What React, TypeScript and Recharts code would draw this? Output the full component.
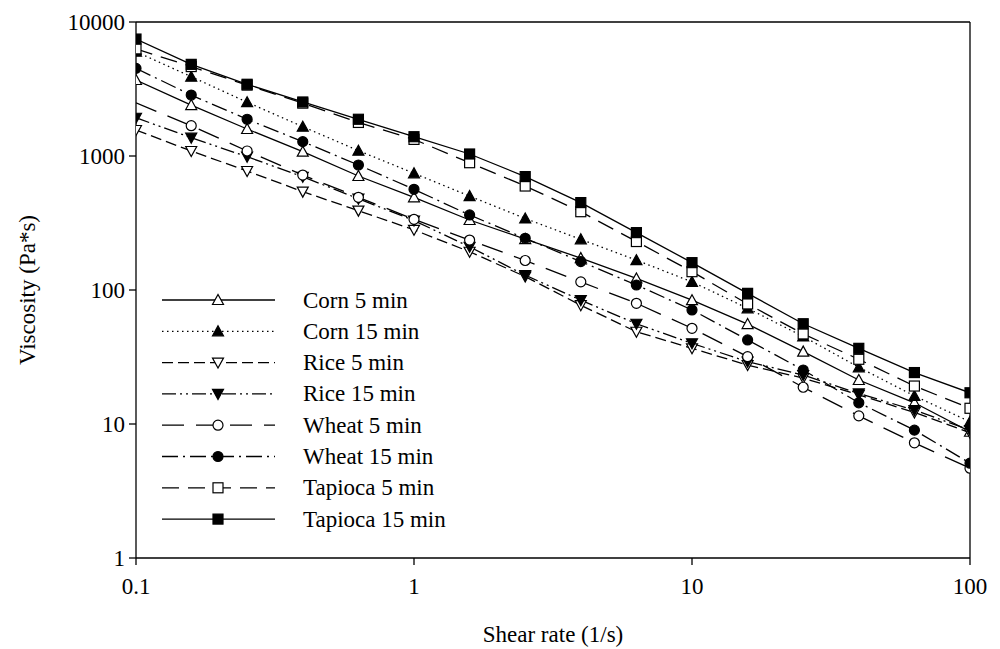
import React from "react";
import {
  Legend,
  Line,
  LineChart,
  ReferenceLine,
  XAxis,
  YAxis,
} from "recharts";

const FONT = "'Liberation Serif', 'Times New Roman', serif";
const FS = 23;

// shear rate, 5 points per decade
const shearRate = [0.1, 0.158, 0.251, 0.398, 0.631, 1, 1.585, 2.512, 3.981, 6.31, 10, 15.85, 25.12, 39.81, 63.1, 100];

const corn5 = [3690, 2400, 1590, 1077, 709, 492, 333, 240, 173, 122, 84, 55.7, 34.7, 21.3, 14.4, 8.75];
const corn15 = [6000, 3910, 2520, 1655, 1096, 743, 502, 342, 239, 167, 115, 73, 45, 26.5, 16.2, 10.4];
const rice5 = [1563, 1090, 773, 542, 391, 281, 193, 126, 77, 48.8, 36.7, 27.5, 22, 16.5, 12.2, 8.6];
const rice15 = [1930, 1370, 988, 700, 480, 330, 210, 129, 84, 56, 40, 29.2, 23.2, 16.9, 12.7, 9.0];
const wheat5 = [2490, 1683, 1090, 721, 492, 337, 236, 166, 115, 79.6, 51.8, 31.8, 18.8, 11.5, 7.24, 4.68];
const wheat15 = [4510, 2850, 1880, 1280, 857, 564, 363, 243, 163, 109, 71, 42.4, 25.3, 14.4, 9.0, 5.1];
const tapioca5 = [6300, 4650, 3380, 2480, 1780, 1330, 891, 597, 384, 230, 137, 78.7, 47, 30.4, 19.2, 13.1];
const tapioca15 = [7460, 4830, 3430, 2530, 1880, 1393, 1035, 702, 449, 268, 160, 94.4, 56, 36.7, 24.2, 17.1];

const xTicks = [0.1, 1, 10, 100];
const yTicks = [1, 10, 100, 1000, 10000];

type Shape = "triUp" | "triDown" | "circle" | "square";

const series = [
  { key: "corn5", name: "Corn 5 min", values: corn5, shape: "triUp" as Shape, filled: false, dash: undefined as string | undefined },
  { key: "corn15", name: "Corn 15 min", values: corn15, shape: "triUp" as Shape, filled: true, dash: "1.5 3.5" },
  { key: "rice5", name: "Rice 5 min", values: rice5, shape: "triDown" as Shape, filled: false, dash: "11 5" },
  { key: "rice15", name: "Rice 15 min", values: rice15, shape: "triDown" as Shape, filled: true, dash: "14 4 2 4 2 4" },
  { key: "wheat5", name: "Wheat 5 min", values: wheat5, shape: "circle" as Shape, filled: false, dash: "22 12" },
  { key: "wheat15", name: "Wheat 15 min", values: wheat15, shape: "circle" as Shape, filled: true, dash: "16 5 2 5" },
  { key: "tapioca5", name: "Tapioca 5 min", values: tapioca5, shape: "square" as Shape, filled: false, dash: "17 9" },
  { key: "tapioca15", name: "Tapioca 15 min", values: tapioca15, shape: "square" as Shape, filled: true, dash: undefined },
];

const data = shearRate.map((x, i) => {
  const row: Record<string, number> = { x };
  series.forEach((s) => {
    row[s.key] = s.values[i];
  });
  return row;
});

function Marker({ cx, cy, shape, filled }: { cx: number; cy: number; shape: Shape; filled: boolean }) {
  const fill = filled ? "#000" : "#fff";
  const common = { fill, stroke: "#000", strokeWidth: 1.2 };
  if (shape === "circle") return <circle cx={cx} cy={cy} r={5} {...common} />;
  if (shape === "square") return <rect x={cx - 5} y={cy - 5} width={10} height={10} {...common} />;
  if (shape === "triUp")
    return <polygon points={`${cx - 5.5},${cy + 4.5} ${cx + 5.5},${cy + 4.5} ${cx},${cy - 5.5}`} {...common} />;
  return <polygon points={`${cx - 5.5},${cy - 4.5} ${cx + 5.5},${cy - 4.5} ${cx},${cy + 5.5}`} {...common} />;
}

function LegendBox() {
  return (
    <svg width={320} height={250} style={{ display: "block" }}>
      {series.map((s, i) => {
        const y = 15 + i * 31.3;
        return (
          <g key={s.key}>
            <line x1={12} x2={125} y1={y} y2={y} stroke="#000" strokeWidth={1.3} strokeDasharray={s.dash} />
            <Marker cx={68} cy={y} shape={s.shape} filled={s.filled} />
            <text x={153} y={y} dominantBaseline="central" fontFamily={FONT} fontSize={FS} fill="#000">
              {s.name}
            </text>
          </g>
        );
      })}
    </svg>
  );
}

export default function App() {
  return (
    <div style={{ position: "absolute", left: 0, top: 0, width: 1000, height: 649, background: "#fff" }}>
      <LineChart width={1000} height={649} data={data} margin={{ top: 22, right: 30, left: 0, bottom: 0 }}>
        <XAxis
          dataKey="x"
          type="number"
          scale="log"
          domain={[0.1, 100]}
          ticks={xTicks}
          allowDataOverflow
          height={91}
          stroke="#000"
          strokeWidth={1.3}
          tickSize={7}
          tickMargin={13}
          tick={{ fontFamily: FONT, fontSize: FS, fill: "#000" }}
          label={(props: any) => {
            const vb = props.viewBox;
            return (
              <text x={vb.x + vb.width / 2} y={634} textAnchor="middle" dominantBaseline="central" fontFamily={FONT} fontSize={FS} fill="#000">
                Shear rate (1/s)
              </text>
            );
          }}
        />
        <YAxis
          type="number"
          scale="log"
          domain={[1, 10000]}
          ticks={yTicks}
          allowDataOverflow
          width={136}
          stroke="#000"
          strokeWidth={1.3}
          tickSize={7}
          tickMargin={4}
          tick={{ fontFamily: FONT, fontSize: FS, fill: "#000" }}
          label={(props: any) => {
            const vb = props.viewBox;
            const cy = vb.y + vb.height / 2;
            return (
              <text x={27} y={cy} textAnchor="middle" dominantBaseline="central" transform={`rotate(-90, 27, ${cy})`} fontFamily={FONT} fontSize={FS} fill="#000">
                Viscosity (Pa*s)
              </text>
            );
          }}
        />
        <ReferenceLine y={10000} stroke="#000" strokeWidth={1.3} />
        <ReferenceLine x={100} stroke="#000" strokeWidth={1.3} />
        {series.map((s) => (
          <Line
            key={s.key}
            dataKey={s.key}
            name={s.name}
            type="linear"
            stroke="#000"
            strokeWidth={1.3}
            strokeDasharray={s.dash}
            isAnimationActive={false}
            activeDot={false}
            dot={(p: any) =>
              s.key === "wheat5" && p.index === 0 ? (
                <g key={`d-${s.key}-${p.index}`} />
              ) : (
                <g key={`d-${s.key}-${p.index}`}>
                  <Marker cx={p.cx} cy={p.cy} shape={s.shape} filled={s.filled} />
                </g>
              )
            }
          />
        ))}
        <Legend
          layout="vertical"
          align="center"
          verticalAlign="middle"
          wrapperStyle={{ left: 150, top: 285, width: 320, height: 250 }}
          content={() => <LegendBox />}
        />
      </LineChart>
    </div>
  );
}
